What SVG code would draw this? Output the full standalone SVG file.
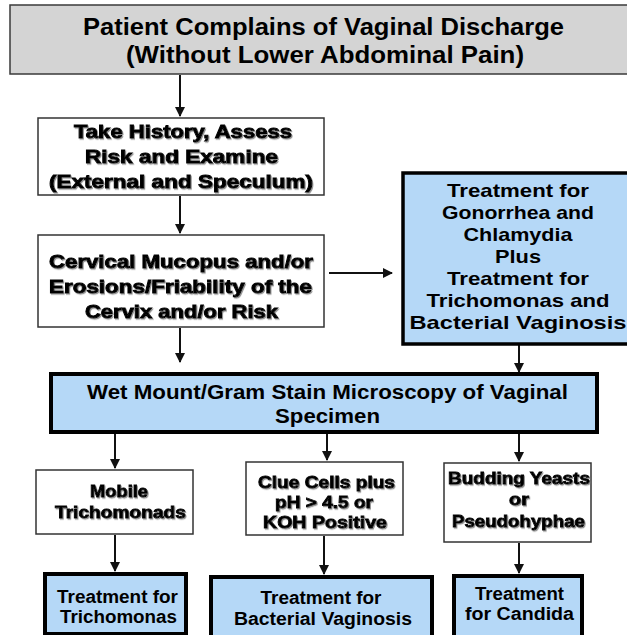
<svg xmlns="http://www.w3.org/2000/svg" width="627" height="635" viewBox="0 0 627 635">
<style>
  text { font-family: "Liberation Sans", Arial, sans-serif; font-weight: bold; fill: #000; text-anchor: middle; }
  .title { font-size: 23px; }
  .heavy { font-size: 18.5px; stroke: #000; stroke-width: 0.9px; filter: url(#shadow); }
  .heavys { font-size: 16.5px; stroke: #000; stroke-width: 0.8px; filter: url(#shadow); }
  .blue { font-size: 19px; }
  .wet { font-size: 20px; }
  .tb { font-size: 18px; }
  .graybox { fill: #d4d4d4; stroke: #3a3a3a; stroke-width: 1.5; }
  .whitebox { fill: #fff; stroke: #333; stroke-width: 1.5; }
  .bluebox { fill: #b5d8f7; stroke: #000; stroke-width: 3.5; }
  .conn { stroke: #111; stroke-width: 2; fill: none; marker-end: url(#arrow); }
</style>
<defs>
  <marker id="arrow" viewBox="0 0 10 10" refX="9" refY="5" markerWidth="5" markerHeight="5" orient="auto" markerUnits="strokeWidth">
    <path d="M0,0 L10,5 L0,10 Z" fill="#111"/>
  </marker>
  <filter id="shadow" x="-5%" y="-20%" width="115%" height="150%">
    <feDropShadow dx="1" dy="1.2" stdDeviation="0.7" flood-color="#777" flood-opacity="0.8"/>
  </filter>
</defs>
<rect width="627" height="635" fill="#fff"/>

<g id="connectors">
  <line class="conn" x1="180" y1="75" x2="180" y2="116"/>
  <line class="conn" x1="180" y1="196" x2="180" y2="233"/>
  <line class="conn" x1="180" y1="328" x2="180" y2="362"/>
  <line class="conn" x1="329" y1="273" x2="392" y2="273"/>
  <line class="conn" x1="519" y1="345" x2="519" y2="372"/>
  <line class="conn" x1="115" y1="433" x2="115" y2="468"/>
  <line class="conn" x1="327" y1="433" x2="327" y2="460"/>
  <line class="conn" x1="519" y1="433" x2="519" y2="461"/>
  <line class="conn" x1="115" y1="535" x2="115" y2="571"/>
  <line class="conn" x1="324" y1="536" x2="324" y2="574"/>
  <line class="conn" x1="519" y1="543" x2="519" y2="573"/>
</g>

<g id="n_title">
  <rect class="graybox" x="10" y="5" width="640" height="69"/>
  <text class="title" x="323.5" y="35" textLength="481" lengthAdjust="spacingAndGlyphs">Patient Complains of Vaginal Discharge</text>
  <text class="title" x="325" y="63" textLength="398" lengthAdjust="spacingAndGlyphs">(Without Lower Abdominal Pain)</text>
</g>

<g id="n_history">
  <rect class="whitebox" x="38" y="118" width="286" height="77"/>
  <text class="heavy" x="183" y="138" textLength="218" lengthAdjust="spacingAndGlyphs">Take History, Assess</text>
  <text class="heavy" x="181.5" y="163" textLength="193" lengthAdjust="spacingAndGlyphs">Risk and Examine</text>
  <text class="heavy" x="181" y="188" textLength="264" lengthAdjust="spacingAndGlyphs">(External and Speculum)</text>
</g>

<g id="n_cervical">
  <rect class="whitebox" x="38" y="235" width="286" height="92"/>
  <text class="heavy" x="181" y="268" textLength="264" lengthAdjust="spacingAndGlyphs">Cervical Mucopus and/or</text>
  <text class="heavy" x="180.5" y="293" textLength="263" lengthAdjust="spacingAndGlyphs">Erosions/Friability of the</text>
  <text class="heavy" x="181.5" y="318" textLength="193" lengthAdjust="spacingAndGlyphs">Cervix and/or Risk</text>
</g>

<g id="n_gc_treatment">
  <rect class="bluebox" x="403" y="173" width="240" height="171"/>
  <text class="blue" x="518" y="197" textLength="142" lengthAdjust="spacingAndGlyphs">Treatment for</text>
  <text class="blue" x="518" y="219" textLength="152" lengthAdjust="spacingAndGlyphs">Gonorrhea and</text>
  <text class="blue" x="518" y="241" textLength="109" lengthAdjust="spacingAndGlyphs">Chlamydia</text>
  <text class="blue" x="518" y="263" textLength="46" lengthAdjust="spacingAndGlyphs">Plus</text>
  <text class="blue" x="518" y="285" textLength="142" lengthAdjust="spacingAndGlyphs">Treatment for</text>
  <text class="blue" x="518" y="307" textLength="183" lengthAdjust="spacingAndGlyphs">Trichomonas and</text>
  <text class="blue" x="518" y="329" textLength="217" lengthAdjust="spacingAndGlyphs">Bacterial Vaginosis</text>
</g>

<g id="n_wetmount">
  <rect x="51" y="374" width="546" height="58" fill="#b5d8f7" stroke="#000" stroke-width="4"/>
  <text class="wet" x="327.5" y="399" textLength="481" lengthAdjust="spacingAndGlyphs">Wet Mount/Gram Stain Microscopy of Vaginal</text>
  <text class="wet" x="327.5" y="423" textLength="105" lengthAdjust="spacingAndGlyphs">Specimen</text>
</g>

<g id="n_mobile">
  <rect class="whitebox" x="36" y="470" width="157" height="64"/>
  <text class="heavys" x="119" y="497" textLength="58" lengthAdjust="spacingAndGlyphs">Mobile</text>
  <text class="heavys" x="120.5" y="518" textLength="131" lengthAdjust="spacingAndGlyphs">Trichomonads</text>
</g>

<g id="n_clue">
  <rect class="whitebox" x="246" y="462" width="157" height="73"/>
  <text class="heavys" x="326.5" y="488" textLength="137" lengthAdjust="spacingAndGlyphs">Clue Cells plus</text>
  <text class="heavys" x="324" y="508" textLength="98" lengthAdjust="spacingAndGlyphs">pH &gt; 4.5 or</text>
  <text class="heavys" x="325" y="528" textLength="124" lengthAdjust="spacingAndGlyphs">KOH Positive</text>
</g>

<g id="n_budding">
  <rect class="whitebox" x="444" y="463" width="147" height="79"/>
  <text class="heavys" x="519" y="484" textLength="142" lengthAdjust="spacingAndGlyphs">Budding Yeasts</text>
  <text class="heavys" x="519" y="505" textLength="20" lengthAdjust="spacingAndGlyphs">or</text>
  <text class="heavys" x="518.5" y="527" textLength="133" lengthAdjust="spacingAndGlyphs">Pseudohyphae</text>
</g>

<g id="n_trich_treatment">
  <rect x="45" y="574" width="141" height="60" fill="#b5d8f7" stroke="#000" stroke-width="4"/>
  <text class="tb" x="117.5" y="603" textLength="121" lengthAdjust="spacingAndGlyphs">Treatment for</text>
  <text class="tb" x="118.5" y="623" textLength="117" lengthAdjust="spacingAndGlyphs">Trichomonas</text>
</g>

<g id="n_bv_treatment">
  <rect x="211" y="577" width="221" height="62" fill="#b5d8f7" stroke="#000" stroke-width="4"/>
  <text class="tb" x="321" y="604" textLength="121" lengthAdjust="spacingAndGlyphs">Treatment for</text>
  <text class="tb" x="323" y="625" textLength="178" lengthAdjust="spacingAndGlyphs">Bacterial Vaginosis</text>
</g>

<g id="n_candida_treatment">
  <rect x="454" y="576" width="128" height="62" fill="#b5d8f7" stroke="#000" stroke-width="4"/>
  <text class="tb" x="519.5" y="600" textLength="89" lengthAdjust="spacingAndGlyphs">Treatment</text>
  <text class="tb" x="519.5" y="620" textLength="109" lengthAdjust="spacingAndGlyphs">for Candida</text>
</g>
</svg>
